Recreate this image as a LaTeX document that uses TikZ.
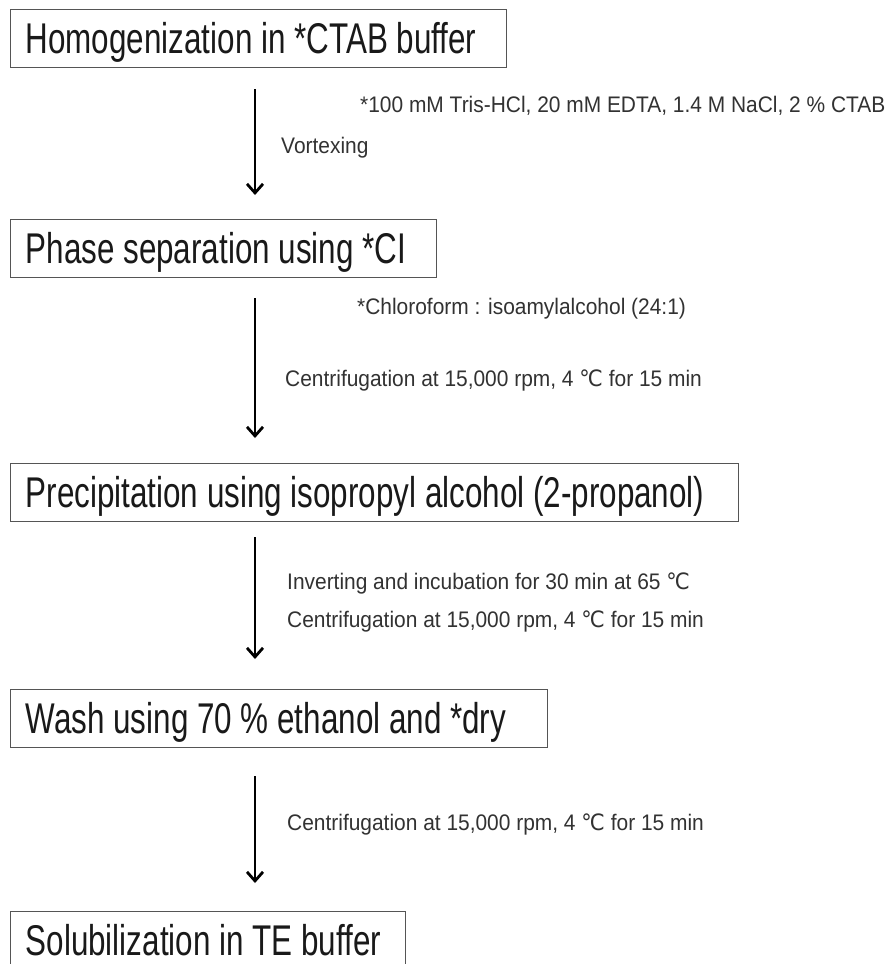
\documentclass[tikz,border=0pt]{standalone}
\usepackage{fontspec}
\setmainfont{Liberation Sans}
\usetikzlibrary{arrows.meta}
\newfontfamily\bigfnt[FakeStretch=0.73]{Liberation Sans}
\newfontfamily\smallfnt[FakeStretch=0.93]{Liberation Sans}
\newfontfamily\degfnt[FakeStretch=0.93]{DejaVu Sans}
\newcommand{\celsius}{{\degfnt ℃}}
\newcommand{\boxtext}[2]{\makebox[#1][l]{#2}}
\definecolor{boxgray}{RGB}{85,85,85}
\definecolor{textdark}{RGB}{25,25,25}
\definecolor{notegray}{RGB}{50,50,50}
\begin{document}
\begin{tikzpicture}[x=1pt,y=-1pt,
  stepbox/.style={draw=boxgray, line width=1.4pt, fill=white, anchor=north west,
    minimum height=58pt, inner xsep=15pt, inner ysep=0pt,
    text height=32pt, text depth=3pt,
    font=\bigfnt\fontsize{43}{46}\selectfont, text=textdark},
  flow/.style={draw=black, line width=2.8pt,
    -{Straight Barb[length=9pt,width=16pt,line width=2.8pt]}},
  note/.style={anchor=west, inner sep=0pt,
    font=\smallfnt\fontsize{22.5}{26}\selectfont, text=notegray}
]
\fill[white] (0,0) rectangle (895,964);
\useasboundingbox (0,0) rectangle (895,964);
\clip (0,0) rectangle (895,964);

\node[stepbox] (b1) at (10,9) {\boxtext{466pt}{Homogenization in *CTAB buffer}};
\node[stepbox] (b2) at (10,219) {\boxtext{396pt}{Phase separation using *CI}};
\node[stepbox] (b3) at (10,463) {\boxtext{698pt}{Precipitation using isopropyl alcohol (2-propanol)}};
\node[stepbox] (b4) at (10,689) {\boxtext{507pt}{Wash using 70 \% ethanol and *dry}};
\node[stepbox] (b5) at (10,911) {\boxtext{365pt}{Solubilization in TE buffer}};

\coordinate (ax) at (255,0);
\draw[flow, shorten <=21pt, shorten >=24pt] (b1.south -| ax) -- (b2.north -| ax);
\draw[flow, shorten <=20pt, shorten >=25pt] (b2.south -| ax) -- (b3.north -| ax);
\draw[flow, shorten <=15pt, shorten >=30pt] (b3.south -| ax) -- (b4.north -| ax);
\draw[flow, shorten <=28pt, shorten >=28pt] (b4.south -| ax) -- (b5.north -| ax);

\node[note] (n1) at (360,106) {*100 mM Tris-HCl, 20 mM EDTA, 1.4 M NaCl, 2 \% CTAB};
\node[note] (n2) at (281,148) {Vortexing};
\node[note] (n3) at (357,309) {*Chloroform : isoamylalcohol (24:1)};
\node[note] (n4) at (285,380) {Centrifugation at 15,000 rpm, 4 \celsius{} for 15 min};
\node[note] (n5) at (287,583) {Inverting and incubation for 30 min at 65 \celsius};
\node[note] (n6) at (287,621) {Centrifugation at 15,000 rpm, 4 \celsius{} for 15 min};
\node[note] (n7) at (287,824) {Centrifugation at 15,000 rpm, 4 \celsius{} for 15 min};
\end{tikzpicture}
\end{document}
